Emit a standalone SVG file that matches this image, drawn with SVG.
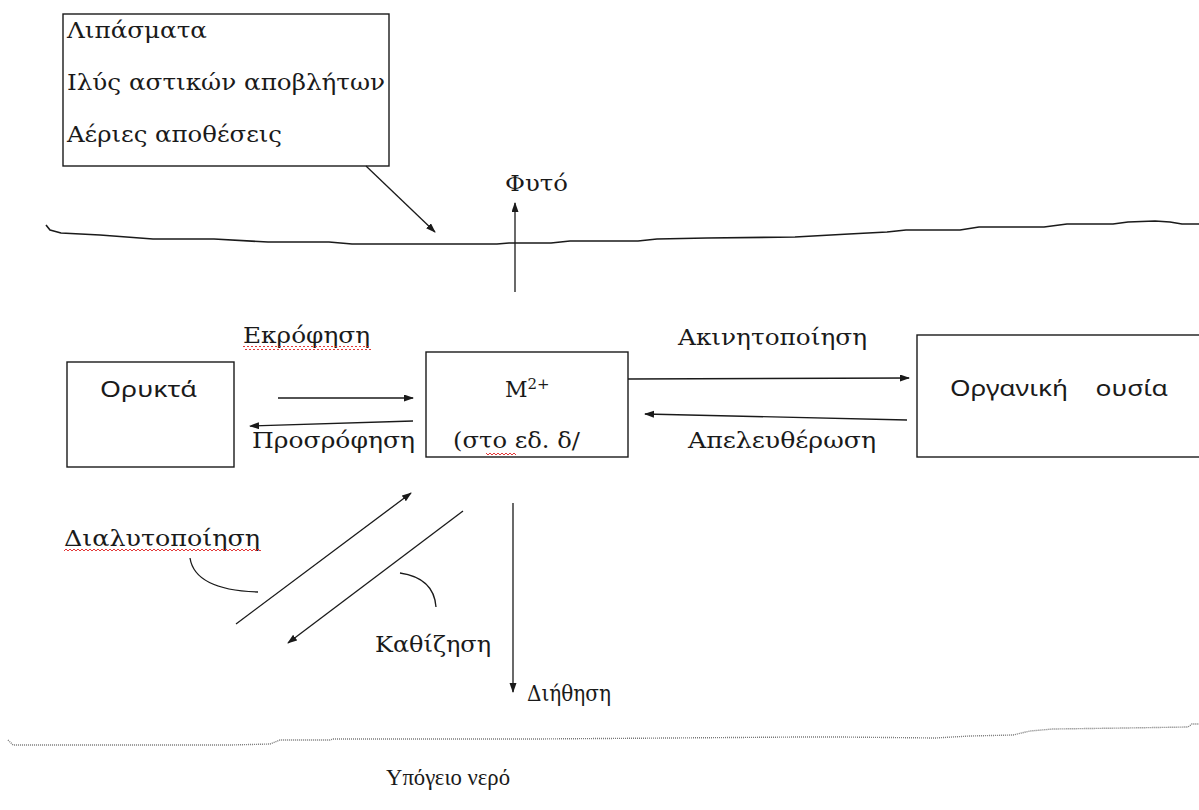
<svg xmlns="http://www.w3.org/2000/svg" width="1199" height="810" viewBox="0 0 1199 810">
<style>
.bg{fill:#fff}
.box{fill:#fff;stroke:#1a1a1a;stroke-width:1.4}
.t{font-family:"DejaVu Serif","Liberation Serif",serif;font-size:22px;fill:#1a1a1a}
.s{font-family:"Noto Sans","Open Sans",sans-serif;font-size:21px;fill:#1a1a1a}
.tm{font-family:"Liberation Serif",serif;font-size:24px;fill:#1a1a1a}
.ln{fill:none;stroke:#1a1a1a;stroke-width:1.3}
.ar{fill:none;stroke:#1a1a1a;stroke-width:1.3;marker-end:url(#ah)}
.gnd{fill:none;stroke:#1a1a1a;stroke-width:1.6;stroke-linejoin:round}
.gnd2{fill:none;stroke:#777;stroke-width:1.4;stroke-dasharray:1 1}
.sq{fill:url(#wave)}
</style>
<defs>
<marker id="ah" markerUnits="userSpaceOnUse" markerWidth="10" markerHeight="8" refX="9" refY="3.5" orient="auto">
<path d="M0,0 L10,3.5 L0,7 z" fill="#1a1a1a"/>
</marker>
<pattern id="wave" patternUnits="userSpaceOnUse" width="4" height="4">
<path d="M0,3 L2,1 L4,3" fill="none" stroke="#e02020" stroke-width="0.9"/>
</pattern>
</defs>
<rect class="bg" x="0" y="0" width="1199" height="810"/>

<g id="ground-lines">
<path class="gnd" d="M46,225 L50,230 L61,233 L100,235 L153,239 L214,239 L268,242 L329,242 L352,244 L497,244 L509,243 L551,243 L570,241 L638,241 L657,239 L707,238 L795,237 L849,234 L887,232 L906,230 L960,230 L979,227 L1044,227 L1067,224 L1113,224 L1128,222 L1155,221 L1170,222 L1182,224 L1199,224"/>
<path class="gnd2" d="M8,740 L13,745 L230,745 L270,744 L280,740 L330,740 L333,739 L535,739 L670,738 L800,737 L840,737 L935,738 L970,736 L1013,735 L1030,731 L1053,729 L1125,728 L1188,727 L1192,724 L1199,724"/>
</g>

<g id="inputs">
<rect class="box" x="63" y="14" width="326" height="152"/>
<text class="t" x="67" y="38" textLength="140" lengthAdjust="spacingAndGlyphs">Λιπάσματα</text>
<text class="t" x="67" y="90" textLength="318" lengthAdjust="spacingAndGlyphs">Ιλύς αστικών αποβλήτων</text>
<text class="t" x="67" y="142" textLength="215" lengthAdjust="spacingAndGlyphs">Αέριες αποθέσεις</text>
</g>

<g id="plant">
<text class="t" x="505" y="191" textLength="63" lengthAdjust="spacingAndGlyphs">Φυτό</text>
</g>

<g id="minerals">
<rect class="box" x="67" y="362" width="167" height="105"/>
<text class="s" x="100" y="397" textLength="97" lengthAdjust="spacingAndGlyphs">Ορυκτά</text>
</g>

<g id="metal">
<rect class="box" x="426" y="352" width="202" height="105"/>
<text class="t" x="505" y="397">M<tspan font-size="15" dy="-8">2+</tspan></text>
<text class="t" x="453" y="448" textLength="127" lengthAdjust="spacingAndGlyphs">(στο εδ. δ/</text>
<rect class="sq" x="486" y="451" width="30" height="4"/>
</g>

<g id="organic">
<rect class="box" x="917" y="335" width="290" height="122"/>
<text class="s" x="950" y="396" textLength="218" lengthAdjust="spacingAndGlyphs" xml:space="preserve">Οργανική    ουσία</text>
</g>

<g id="connectors">
<line class="ar" x1="366" y1="166" x2="435" y2="232"/>
<line class="ar" x1="515" y1="292" x2="515" y2="203"/>
<line class="ar" x1="278" y1="398" x2="413" y2="398"/>
<line class="ar" x1="413" y1="421" x2="250" y2="426"/>
<line class="ar" x1="628" y1="379" x2="909" y2="378"/>
<line class="ar" x1="907" y1="420" x2="645" y2="414"/>
<line class="ar" x1="236" y1="624" x2="411" y2="493"/>
<line class="ar" x1="463" y1="511" x2="288" y2="643"/>
<line class="ar" x1="513" y1="503" x2="513" y2="692"/>
<path class="ln" d="M190,558 Q195,590 258,592"/>
<path class="ln" d="M400,573 Q434,578 436,607"/>
</g>

<g id="labels">
<text class="t" x="243" y="343" textLength="127" lengthAdjust="spacingAndGlyphs">Εκρόφηση</text>
<rect class="sq" x="243" y="346" width="128" height="4"/>
<text class="t" x="678" y="345" textLength="189" lengthAdjust="spacingAndGlyphs">Ακινητοποίηση</text>
<text class="t" x="252" y="448" textLength="163" lengthAdjust="spacingAndGlyphs">Προσρόφηση</text>
<text class="t" x="688" y="448" textLength="188" lengthAdjust="spacingAndGlyphs">Απελευθέρωση</text>
<text class="t" x="64" y="546" textLength="196" lengthAdjust="spacingAndGlyphs">Διαλυτοποίηση</text>
<rect class="sq" x="64" y="549" width="197" height="4"/>
<text class="t" x="375" y="652" textLength="116" lengthAdjust="spacingAndGlyphs">Καθίζηση</text>
<text class="t" x="527" y="701" textLength="84" lengthAdjust="spacingAndGlyphs">Διήθηση</text>
<text class="tm" x="386" y="785" textLength="124" lengthAdjust="spacingAndGlyphs">Υπόγειο νερό</text>
</g>
</svg>
